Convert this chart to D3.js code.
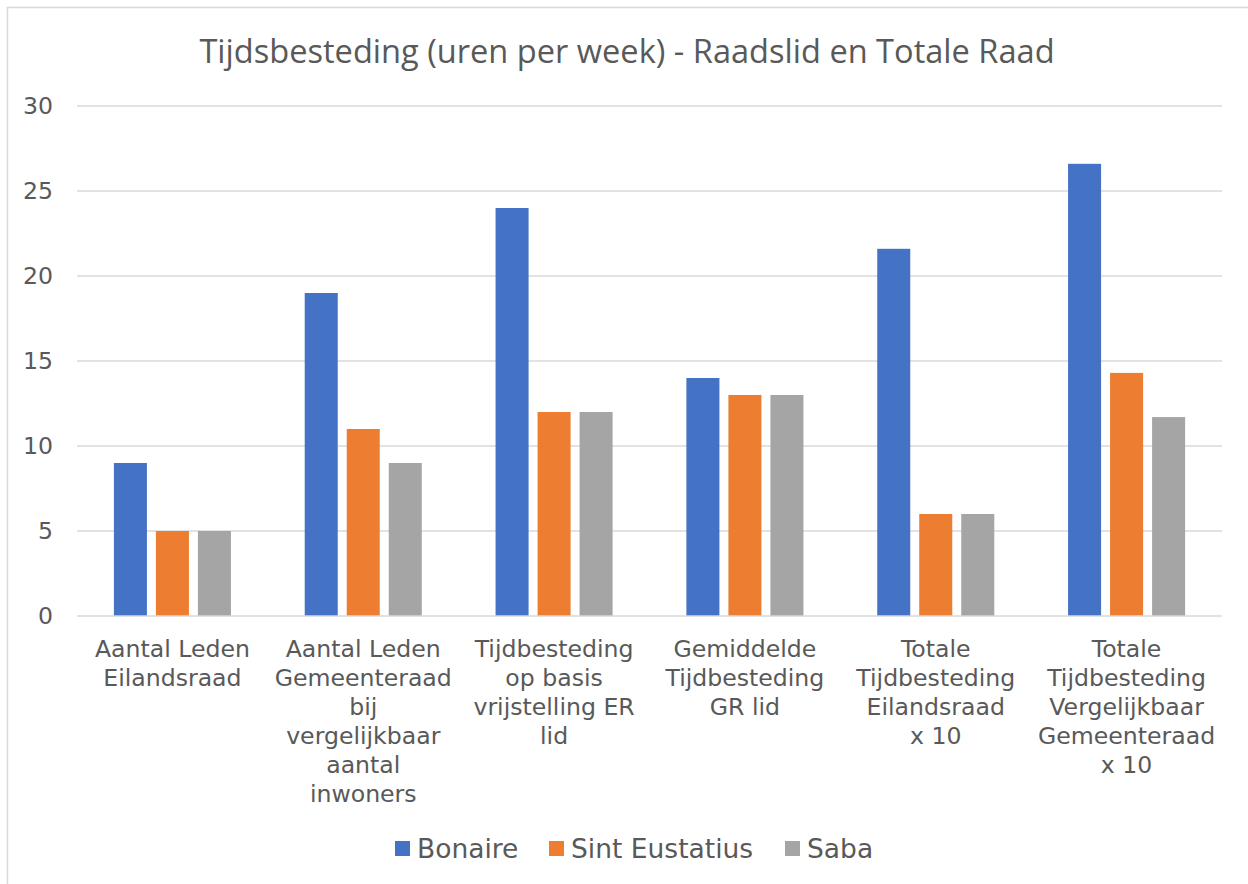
<!DOCTYPE html>
<html>
<head>
<meta charset="utf-8">
<script src="https://cdn.jsdelivr.net/npm/d3@7"></script>
<style>
  body { margin: 0; background: #fff; }
  svg { display: block; }
  text { fill: #595959; font-family: "DejaVu Sans", Verdana, sans-serif; }
</style>
</head>
<body>
<svg id="chart"></svg>
<script>
const width = 1248;
const height = 884;

const categories = [
  ["Aantal Leden", "Eilandsraad"],
  ["Aantal Leden", "Gemeenteraad", "bij", "vergelijkbaar", "aantal", "inwoners"],
  ["Tijdbesteding", "op basis", "vrijstelling ER", "lid"],
  ["Gemiddelde", "Tijdbesteding", "GR lid"],
  ["Totale", "Tijdbesteding", "Eilandsraad", "x 10"],
  ["Totale", "Tijdbesteding", "Vergelijkbaar", "Gemeenteraad", "x 10"]
];
const seriesNames = ["Bonaire", "Sint Eustatius", "Saba"];
const bonaire = [9, 19, 24, 14, 21.6, 26.6];
const sintEustatius = [5, 11, 12, 13, 6, 14.3];
const saba = [5, 9, 12, 13, 6, 11.7];
const yTicks = [0, 5, 10, 15, 20, 25, 30];
const colors = ["#4472C4", "#ED7D31", "#A5A5A5"];
const titleText = "Tijdsbesteding (uren per week) - Raadslid en Totale Raad";

const values = [bonaire, sintEustatius, saba];

const plot = { left: 77, right: 1222, top: 106, bottom: 616 };

const svg = d3.select("#chart")
  .attr("width", width)
  .attr("height", height);

// outer chart border
svg.append("rect")
  .attr("x", 7.5).attr("y", 7.5)
  .attr("width", 1260).attr("height", 900)
  .attr("fill", "none")
  .attr("stroke", "#D9D9D9")
  .attr("stroke-width", 1.5);

svg.append("text")
  .attr("x", 627).attr("y", 63)
  .attr("text-anchor", "middle")
  .style("font-family", "'Open Sans', sans-serif")
  .style("font-size", "32.6px")
  .text(titleText);

const x0 = d3.scaleBand()
  .domain(d3.range(categories.length))
  .range([plot.left, plot.right]);

const x1 = d3.scaleBand()
  .domain(seriesNames)
  .range([0, x0.bandwidth()])
  .paddingInner(0.214)
  .paddingOuter(0.878);

const y = d3.scaleLinear()
  .domain([0, 30])
  .range([plot.bottom, plot.top]);

// gridlines
svg.append("g")
  .selectAll("line")
  .data(yTicks.filter(d => d > 0))
  .join("line")
  .attr("x1", plot.left).attr("x2", plot.right)
  .attr("y1", d => y(d)).attr("y2", d => y(d))
  .attr("stroke", "#D9D9D9")
  .attr("stroke-width", 1.5);

// y tick labels
svg.append("g")
  .selectAll("text")
  .data(yTicks)
  .join("text")
  .attr("x", 53)
  .attr("y", d => y(d))
  .attr("dy", "0.36em")
  .attr("text-anchor", "end")
  .style("font-size", "23.6px")
  .text(d => d);

// bars
const groups = svg.append("g")
  .selectAll("g")
  .data(categories.map((c, i) => i))
  .join("g")
  .attr("transform", i => `translate(${x0(i)},0)`);

groups.selectAll("rect")
  .data(i => seriesNames.map((s, k) => ({ s, k, v: values[k][i] })))
  .join("rect")
  .attr("x", d => x1(d.s))
  .attr("width", x1.bandwidth())
  .attr("y", d => y(d.v))
  .attr("height", d => y(0) - y(d.v))
  .attr("fill", d => colors[d.k]);

// category axis line
svg.append("line")
  .attr("x1", plot.left).attr("x2", plot.right)
  .attr("y1", y(0)).attr("y2", y(0))
  .attr("stroke", "#D9D9D9")
  .attr("stroke-width", 1.5);

// category labels
const catLabels = svg.append("g")
  .selectAll("text")
  .data(categories)
  .join("text")
  .attr("x", (d, i) => x0(i) + x0.bandwidth() / 2)
  .attr("y", 657)
  .attr("text-anchor", "middle")
  .style("font-size", "23.6px");

catLabels.selectAll("tspan")
  .data(d => d)
  .join("tspan")
  .attr("x", function () { return d3.select(this.parentNode).attr("x"); })
  .attr("dy", (d, i) => i === 0 ? 0 : 29)
  .text(d => d);

// legend
const legendX = [395, 549, 785];
const legend = svg.append("g")
  .selectAll("g")
  .data(seriesNames)
  .join("g")
  .attr("transform", (d, i) => `translate(${legendX[i]},841)`);

legend.append("rect")
  .attr("width", 15).attr("height", 15)
  .attr("fill", (d, i) => colors[i]);

legend.append("text")
  .attr("x", 22).attr("y", 7.5)
  .attr("dy", "0.36em")
  .style("font-size", "26.5px")
  .text(d => d);
</script>
</body>
</html>
